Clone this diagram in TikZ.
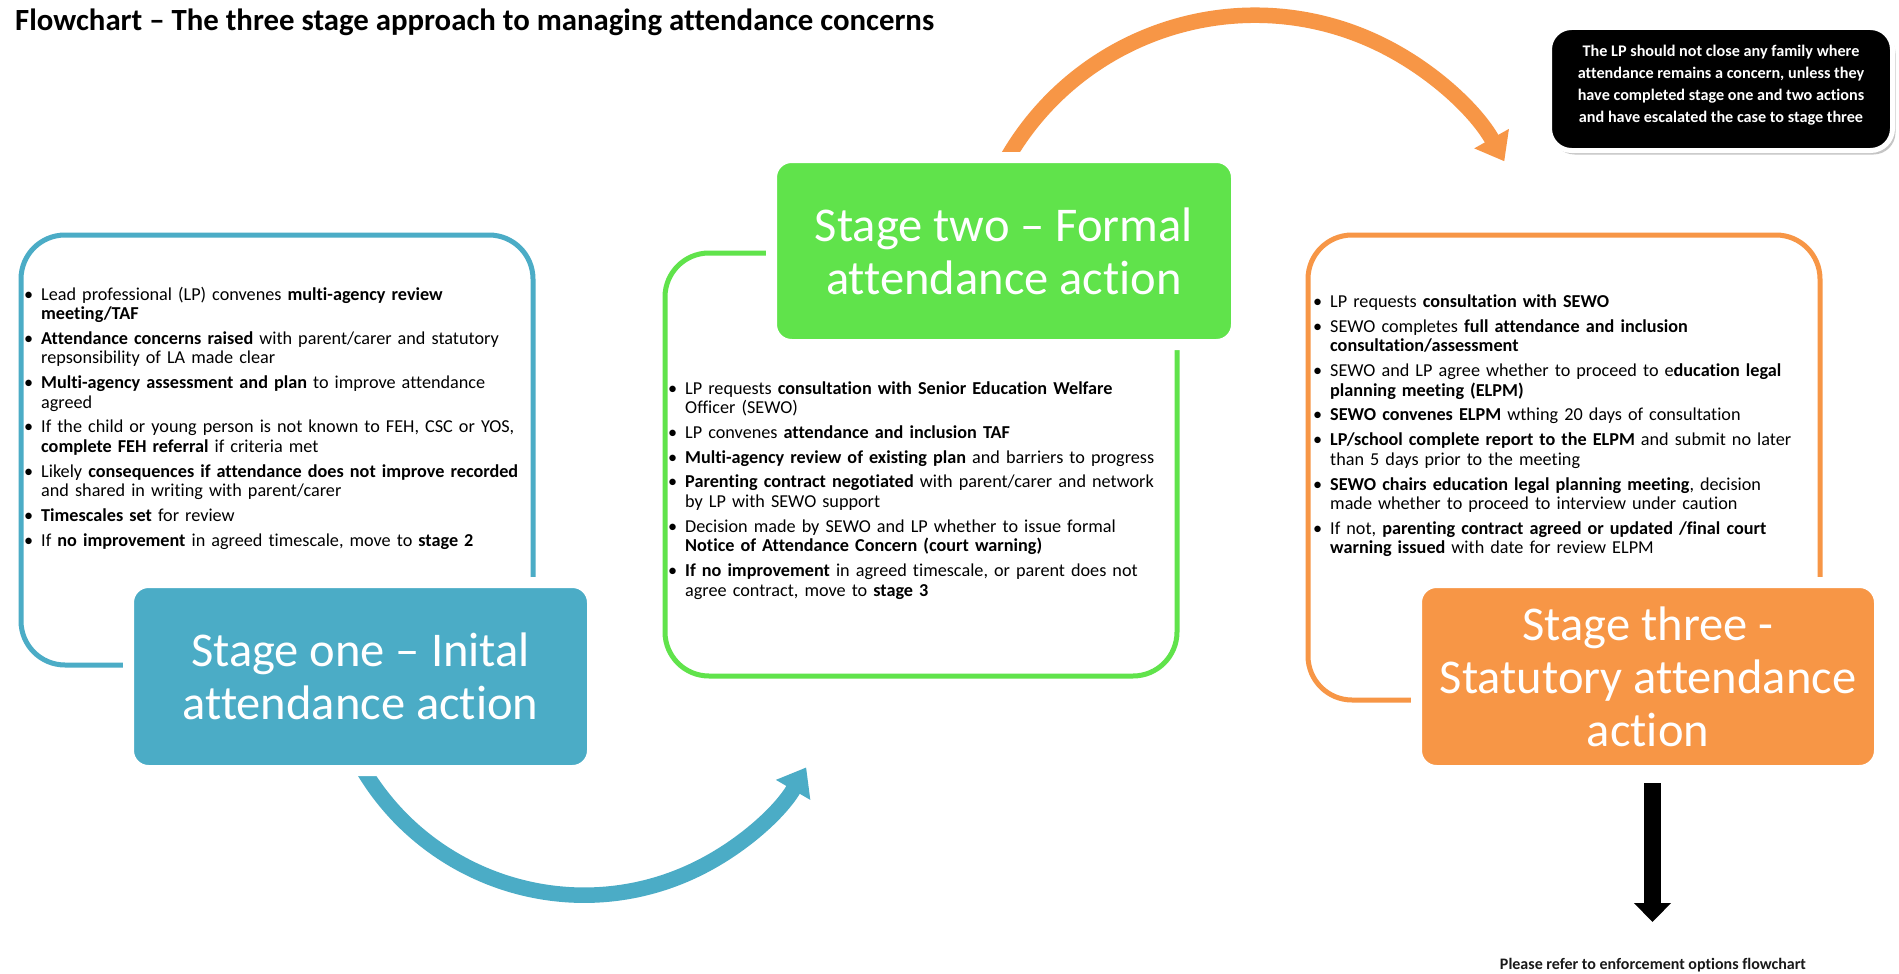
\documentclass[tikz,border=0pt]{standalone}
\usepackage{fontspec}
\setmainfont{Carlito}[Ligatures=NoCommon]
\usetikzlibrary{arrows.meta,shadows}
\definecolor{sblue}{HTML}{4BACC6}
\definecolor{sgreen}{HTML}{60E34B}
\definecolor{sorange}{HTML}{F79646}
\newcommand{\bitem}[1]{\hangindent=17pt\hangafter=1\noindent\makebox[17pt][l]{\textbullet}#1\par}
\newcommand{\nitem}[1]{\vskip5.3pt\bitem{#1}}
\begin{document}
\begin{tikzpicture}[x=1pt,y=1pt,
  outlinebox/.style={draw=#1, line width=5pt, rounded corners=44pt, fill=white, inner sep=0pt, anchor=north west},
  stagebox/.style={fill=#1, draw=white, line width=11pt, rounded corners=20pt, inner sep=0pt,
     text=white, align=center, font=\fontsize{48.5}{53}\selectfont},
  bullets/.style={anchor=base west, inner sep=0pt, text width=600pt,
     font=\fontsize{18.2}{19.5}\selectfont, execute at begin node=\raggedright},
  bigarrow/.style={draw=#1, line width=15.5pt, -{Triangle[length=26pt,width=38pt]}},
  notebox/.style={fill=black, draw=white, line width=5pt, rounded corners=22pt, inner sep=0pt,
     drop shadow={shadow xshift=3pt, shadow yshift=-4pt, opacity=0.45}},
  notetext/.style={text=white, align=center, inner sep=0pt, font=\bfseries\fontsize{16.2}{22}\selectfont}
]
\path[use as bounding box, fill=white] (0,0) rectangle (1899,-974);

% title
\node[anchor=base west, inner sep=0pt, font=\bfseries\fontsize{30.8}{34}\selectfont] (title) at (15,-31)
  {Flowchart – The three stage approach to managing attendance concerns};

% outline boxes
\node[outlinebox=sblue, minimum width=512pt, minimum height=430pt] (s1box) at (18.5,-232.5) {};
\node[outlinebox=sgreen, minimum width=512pt, minimum height=423pt] (s2box) at (662.5,-250.5) {};
\node[outlinebox=sorange, minimum width=512pt, minimum height=465pt] (s3box) at (1305.5,-232.5) {};

% bullet texts
\node[bullets] (s1text) at (24,-300) {%
\bitem{Lead professional (LP) convenes \textbf{multi-agency review}\newline\textbf{meeting/TAF}}
\nitem{\textbf{Attendance concerns raised} with parent/carer and statutory\newline repsonsibility of LA made clear}
\nitem{\textbf{Multi-agency assessment and plan} to improve attendance\newline agreed}
\nitem{If the child or young person is not known to FEH, CSC or YOS,\newline \textbf{complete FEH referral} if criteria met}
\nitem{Likely \textbf{consequences if attendance does not improve recorded}\newline and shared in writing with parent/carer}
\nitem{\textbf{Timescales set} for review}
\nitem{If \textbf{no improvement} in agreed timescale, move to \textbf{stage 2}}};

\node[bullets] (s2text) at (668,-394) {%
\bitem{LP requests \textbf{consultation with Senior Education Welfare}\newline Officer (SEWO)}
\nitem{LP convenes \textbf{attendance and inclusion TAF}}
\nitem{\textbf{Multi-agency review of existing plan} and barriers to progress}
\nitem{\textbf{Parenting contract negotiated} with parent/carer and network\newline by LP with SEWO support}
\nitem{Decision made by SEWO and LP whether to issue formal\newline \textbf{Notice of Attendance Concern (court warning)}}
\nitem{\textbf{If no improvement} in agreed timescale, or parent does not\newline agree contract, move to \textbf{stage 3}}};

\node[bullets] (s3text) at (1313,-307.5) {%
\bitem{LP requests \textbf{consultation with SEWO}}
\nitem{SEWO completes \textbf{full attendance and inclusion}\newline \textbf{consultation/assessment}}
\nitem{SEWO and LP agree whether to proceed to e\textbf{ducation legal}\newline \textbf{planning meeting (ELPM)}}
\nitem{\textbf{SEWO convenes ELPM} wthing 20 days of consultation}
\nitem{\textbf{LP/school complete report to the ELPM} and submit no later\newline than 5 days prior to the meeting}
\nitem{\textbf{SEWO chairs education legal planning meeting}, decision\newline made whether to proceed to interview under caution}
\nitem{If not, \textbf{parenting contract agreed or updated /final court}\newline \textbf{warning issued} with date for review ELPM}};

% curved arrows (start hidden under the stage boxes)
\coordinate (a1s) at (352.7,-750);
\coordinate (a2s) at (998.3,-175);
\draw[bigarrow=sblue] (a1s) arc[start angle=205.8, end angle=329.8, radius=257pt];
\draw[bigarrow=sorange] (a2s) arc[start angle=153.8, end angle=29.3, radius=286pt];

% stage boxes
\node[stagebox=sblue, minimum width=464pt, minimum height=188pt] (s1fill) at (360.5,-676.5)
  {Stage one – Inital\\attendance action};
\node[stagebox=sgreen, minimum width=465pt, minimum height=187pt] (s2fill) at (1004,-251)
  {Stage two – Formal\\attendance action};
\node[stagebox=sorange, minimum width=463pt, minimum height=188pt] (s3fill) at (1648,-676.5)
  {Stage three -\\Statutory attendance\\action};

% note
\node[notebox, minimum width=343pt, minimum height=123pt] (note) at (1721,-89) {};
\node[notetext] (notet) at ([yshift=4pt]note.center)
  {The LP should not close any family where\\attendance remains a concern, unless they\\have completed stage one and two actions\\and have escalated the case to stage three};

% down arrow and footer
\node[anchor=base, inner sep=0pt, font=\bfseries\fontsize{16}{18}\selectfont, text=black!90] (refer) at (1653,-969)
  {Please refer to enforcement options flowchart};
\coordinate (dtop) at (1652.5,-783);
\coordinate (dend) at (1652.5,-922);
\draw[line width=17pt, -{Triangle[length=19pt,width=36pt]}] (dtop) -- (dend);
\end{tikzpicture}
\end{document}
